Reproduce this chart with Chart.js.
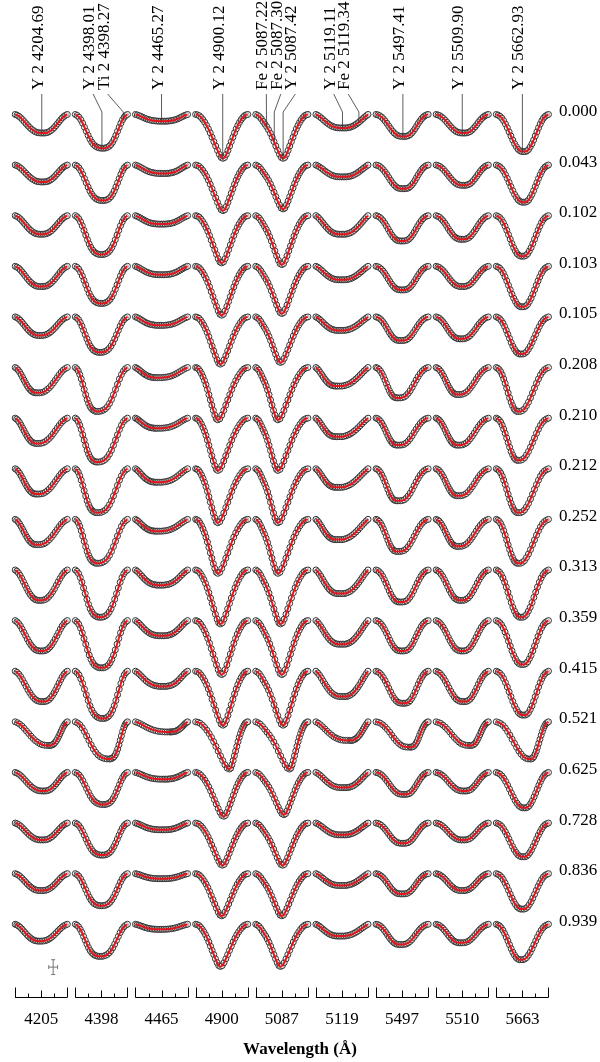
<!DOCTYPE html>
<html>
<head>
<meta charset="utf-8">
<script src="https://cdn.jsdelivr.net/npm/chart.js@4.4.1/dist/chart.umd.min.js"></script>
<style>
html, body { margin: 0; background: #fff; }
#wrap { width: 600px; height: 1062px; }
</style>
</head>
<body>
<div id="wrap"><canvas id="profileChart"></canvas></div>
<script>
// line windows (bottom axis) and rotation phases (right side)
const wavelengths = ['4205', '4398', '4465', '4900', '5087', '5119', '5497', '5510', '5663'];
const phases = ['0.000', '0.043', '0.102', '0.103', '0.105', '0.208', '0.210', '0.212', '0.252',
                '0.313', '0.359', '0.415', '0.521', '0.625', '0.728', '0.836', '0.939'];

// central line depth (fraction of continuum), one row per phase, one value per window
const depths = [
  [0.11, 0.20, 0.04, 0.26, 0.26, 0.08, 0.13, 0.11, 0.22],
  [0.10, 0.21, 0.05, 0.27, 0.26, 0.07, 0.14, 0.12, 0.22],
  [0.11, 0.23, 0.05, 0.28, 0.29, 0.11, 0.15, 0.14, 0.24],
  [0.12, 0.22, 0.05, 0.29, 0.28, 0.08, 0.14, 0.12, 0.24],
  [0.11, 0.21, 0.05, 0.28, 0.27, 0.08, 0.14, 0.13, 0.22],
  [0.15, 0.26, 0.06, 0.31, 0.31, 0.11, 0.18, 0.16, 0.26],
  [0.15, 0.26, 0.06, 0.31, 0.31, 0.11, 0.16, 0.16, 0.25],
  [0.15, 0.26, 0.08, 0.32, 0.32, 0.11, 0.19, 0.16, 0.26],
  [0.15, 0.26, 0.07, 0.32, 0.32, 0.12, 0.19, 0.16, 0.26],
  [0.18, 0.28, 0.09, 0.32, 0.32, 0.14, 0.19, 0.18, 0.28],
  [0.18, 0.28, 0.09, 0.32, 0.32, 0.14, 0.18, 0.18, 0.26],
  [0.18, 0.28, 0.09, 0.32, 0.32, 0.15, 0.19, 0.18, 0.26],
  [0.14, 0.22, 0.06, 0.28, 0.28, 0.11, 0.15, 0.14, 0.22],
  [0.11, 0.19, 0.04, 0.26, 0.25, 0.09, 0.13, 0.11, 0.21],
  [0.10, 0.19, 0.04, 0.25, 0.25, 0.07, 0.12, 0.10, 0.20],
  [0.10, 0.19, 0.03, 0.25, 0.25, 0.07, 0.12, 0.10, 0.21],
  [0.10, 0.19, 0.03, 0.25, 0.25, 0.07, 0.12, 0.11, 0.21]
];

// where the line core sits inside its window at each phase (-1 blue edge .. +1 red edge)
const coreShift = [0.05, 0.05, 0.0, 0.0, -0.05, -0.15, -0.15, -0.15, -0.15,
                   -0.05, 0.0, 0.05, 0.3, 0.08, 0.03, 0.0, -0.05];

// normalised profile shapes across each window (0 = continuum, 1 = core), 31 samples
const shape4205 = [0, 0.04, 0.10, 0.18, 0.28, 0.39, 0.50, 0.61, 0.71, 0.80, 0.87, 0.93, 0.97, 0.99, 1, 1,
                   1, 0.99, 0.97, 0.93, 0.87, 0.80, 0.71, 0.61, 0.50, 0.39, 0.28, 0.18, 0.10, 0.04, 0];
const shape4398 = [0, 0.03, 0.08, 0.16, 0.26, 0.38, 0.50, 0.62, 0.73, 0.82, 0.89, 0.94, 0.97, 0.99, 1, 1,
                   1, 0.99, 0.97, 0.94, 0.89, 0.82, 0.73, 0.62, 0.50, 0.38, 0.26, 0.16, 0.08, 0.03, 0];
const shape4465 = [0, 0.08, 0.18, 0.30, 0.42, 0.54, 0.65, 0.74, 0.82, 0.88, 0.93, 0.96, 0.98, 1, 1, 1,
                   1, 1, 0.98, 0.96, 0.93, 0.88, 0.82, 0.74, 0.65, 0.54, 0.42, 0.30, 0.18, 0.08, 0];
const shape4900 = [0, 0.01, 0.03, 0.07, 0.12, 0.18, 0.25, 0.33, 0.42, 0.52, 0.62, 0.72, 0.82, 0.91, 0.98, 1,
                   0.98, 0.91, 0.82, 0.72, 0.62, 0.52, 0.42, 0.33, 0.25, 0.18, 0.12, 0.07, 0.03, 0.01, 0];
const shape5087 = [0, 0.02, 0.05, 0.10, 0.16, 0.22, 0.28, 0.35, 0.43, 0.52, 0.62, 0.72, 0.82, 0.91, 0.98, 1,
                   0.98, 0.91, 0.82, 0.72, 0.62, 0.52, 0.42, 0.33, 0.25, 0.18, 0.12, 0.07, 0.03, 0.01, 0];
const shape5119 = [0, 0.07, 0.16, 0.27, 0.39, 0.51, 0.62, 0.72, 0.81, 0.88, 0.93, 0.97, 0.99, 1, 1, 1,
                   1, 1, 0.98, 0.95, 0.91, 0.86, 0.79, 0.71, 0.62, 0.52, 0.41, 0.30, 0.19, 0.09, 0];
const shape5497 = [0, 0.02, 0.06, 0.12, 0.20, 0.30, 0.41, 0.53, 0.65, 0.76, 0.85, 0.92, 0.97, 0.99, 1, 1,
                   1, 0.99, 0.97, 0.92, 0.85, 0.76, 0.65, 0.53, 0.41, 0.30, 0.20, 0.12, 0.06, 0.02, 0];
const shape5510 = [0, 0.03, 0.07, 0.14, 0.22, 0.32, 0.43, 0.55, 0.66, 0.76, 0.85, 0.92, 0.96, 0.99, 1, 1,
                   1, 0.99, 0.96, 0.92, 0.85, 0.76, 0.66, 0.55, 0.43, 0.32, 0.22, 0.14, 0.07, 0.03, 0];
const shape5663 = [0, 0.02, 0.05, 0.10, 0.17, 0.26, 0.36, 0.47, 0.58, 0.69, 0.79, 0.87, 0.94, 0.98, 1, 1,
                   1, 0.98, 0.94, 0.87, 0.79, 0.69, 0.58, 0.47, 0.36, 0.26, 0.17, 0.10, 0.05, 0.02, 0];
const shapes = [shape4205, shape4398, shape4465, shape4900, shape5087, shape5119, shape5497, shape5510, shape5663];

// line identifications at the top
const lineNames = ['Y 2 4204.69', 'Y 2 4398.01', 'Ti 2 4398.27', 'Y 2 4465.27', 'Y 2 4900.12',
                   'Fe 2 5087.22', 'Fe 2 5087.30', 'Y 2 5087.42', 'Y 2 5119.11', 'Fe 2 5119.34',
                   'Y 2 5497.41', 'Y 2 5509.90', 'Y 2 5662.93'];
const lineWindow = [0, 1, 1, 2, 3, 4, 4, 4, 5, 5, 6, 7, 8];
const linePos = [0.02, 0.02, 0.84, 0, 0.04, -0.59, -0.29, 0.05, 0.02, 0.65, 0.03, 0, 0];

const PITCH = 2.308;   // window spacing in axis units
const STEP = 0.3;      // vertical offset between phases

function windowPoints(r, c) {
  const s0 = coreShift[r];
  const shape = shapes[c];
  return shape.map((s, i) => {
    const t = -1 + 2 * i / (shape.length - 1);
    const u = t < 0 ? -1 + (t + 1) * (1 + s0) : s0 + t * (1 - s0);
    return { x: c * PITCH + u, y: 1 - depths[r][c] * s - r * STEP };
  });
}

const datasets = [];
phases.forEach((ph, r) => {
  const obs = [];
  const fit = [];
  wavelengths.forEach((w, c) => {
    const pts = windowPoints(r, c);
    obs.push(...pts);
    fit.push(...pts, { x: c * PITCH + 1.15, y: null });
  });
  datasets.push({
    label: 'observed ' + ph, data: obs, showLine: false,
    pointRadius: 3, pointBorderWidth: 1,
    pointBorderColor: '#333333', pointBackgroundColor: 'rgba(255,255,255,0.6)',
    order: 1
  });
  datasets.push({
    label: 'model ' + ph, data: fit, showLine: true, spanGaps: false,
    pointRadius: 0, borderColor: '#e0161c', borderWidth: 2, tension: 0.4,
    order: 0
  });
});

const serif = 'Liberation Serif';

const extras = {
  id: 'extras',
  afterDraw(chart) {
    const ctx = chart.ctx;
    const xs = chart.scales.x;
    const ys = chart.scales.y;
    const area = chart.chartArea;
    ctx.save();
    ctx.strokeStyle = '#000';
    ctx.fillStyle = '#000';
    ctx.lineWidth = 1;

    // bracket ticks under each window
    const base = Math.round(area.bottom + 12) + 0.5;
    wavelengths.forEach((w, c) => {
      const pos = [-1, -0.5, 0, 0.5, 1];
      const len = [10, 4, 7, 4, 10];
      ctx.beginPath();
      ctx.moveTo(xs.getPixelForValue(c * PITCH - 1), base);
      ctx.lineTo(xs.getPixelForValue(c * PITCH + 1), base);
      pos.forEach((p, i) => {
        const px = Math.round(xs.getPixelForValue(c * PITCH + p)) + 0.5;
        ctx.moveTo(px, base);
        ctx.lineTo(px, base - len[i]);
      });
      ctx.stroke();
    });

    // phase labels
    ctx.font = '17px "' + serif + '"';
    ctx.textAlign = 'left';
    ctx.textBaseline = 'middle';
    phases.forEach((ph, r) => {
      ctx.fillText(ph, 559, ys.getPixelForValue(1 - r * STEP) - 3);
    });

    // line identifications with leader lines
    ctx.strokeStyle = '#333';
    ctx.lineWidth = 0.8;
    lineNames.forEach((name, i) => {
      const c = lineWindow[i];
      const pts = windowPoints(0, c);
      const target = c * PITCH + linePos[i];
      let best = pts[0];
      pts.forEach(p => { if (Math.abs(p.x - target) < Math.abs(best.x - target)) best = p; });
      const xLine = xs.getPixelForValue(target);
      const yEnd = ys.getPixelForValue(best.y);
      const sameWin = lineWindow.filter(v => v === c).length;
      const k = lineWindow.slice(0, i).filter(v => v === c).length;
      const xText = sameWin === 1 ? xLine : xs.getPixelForValue(c * PITCH) + (k - (sameWin - 1) / 2) * 14.5 - 1;
      ctx.beginPath();
      ctx.moveTo(xText, 94);
      const yKnee = Math.min(112, yEnd);
      ctx.lineTo(xLine, yKnee);
      ctx.lineTo(xLine, yEnd);
      ctx.stroke();
      ctx.save();
      ctx.translate(xText + 1, 90);
      ctx.rotate(-Math.PI / 2);
      ctx.textBaseline = 'alphabetic';
      ctx.fillText(name, 0, 0);
      ctx.restore();
    });

    // typical error bar
    const ex = xs.getPixelForValue(0.457);
    const ey = ys.getPixelForValue(-4.054);
    const hx = xs.getPixelForValue(0.457 + 0.17) - ex;
    const hy = ey - ys.getPixelForValue(-4.054 + 0.044);
    ctx.strokeStyle = '#777';
    ctx.lineWidth = 1;
    ctx.beginPath();
    ctx.moveTo(ex - hx, ey); ctx.lineTo(ex + hx, ey);
    ctx.moveTo(ex, ey - hy); ctx.lineTo(ex, ey + hy);
    ctx.moveTo(ex - 2, ey - hy); ctx.lineTo(ex + 2, ey - hy);
    ctx.moveTo(ex - 2, ey + hy); ctx.lineTo(ex + 2, ey + hy);
    ctx.moveTo(ex - hx, ey - 2); ctx.lineTo(ex - hx, ey + 2);
    ctx.moveTo(ex + hx, ey - 2); ctx.lineTo(ex + hx, ey + 2);
    ctx.stroke();
    ctx.restore();
  }
};

const ctx = document.getElementById('profileChart').getContext('2d');
new Chart(ctx, {
  type: 'scatter',
  data: { datasets: datasets },
  options: {
    responsive: true,
    maintainAspectRatio: false,
    animation: false,
    layout: { padding: 0 },
    scales: {
      x: {
        type: 'linear',
        min: -1.149,
        max: 21.25,
        grid: { display: false, drawTicks: false },
        border: { display: false },
        afterBuildTicks: axis => { axis.ticks = wavelengths.map((w, c) => ({ value: c * PITCH })); },
        afterFit: axis => { axis.height = 45.6; },
        ticks: {
          autoSkip: false,
          maxRotation: 0,
          padding: 24,
          color: '#000',
          font: { family: serif, size: 17 },
          callback: (v, i) => wavelengths[i]
        }
      },
      y: {
        min: -4.16,
        max: 1.6487,
        display: false
      }
    },
    plugins: {
      legend: { display: false },
      tooltip: { enabled: false },
      title: {
        display: true,
        position: 'bottom',
        text: 'Wavelength (Å)',
        color: '#000',
        font: { family: serif, size: 17, weight: 'bold' },
        padding: { top: 9, bottom: 2 }
      }
    }
  },
  plugins: [extras]
});
</script>
</body>
</html>
